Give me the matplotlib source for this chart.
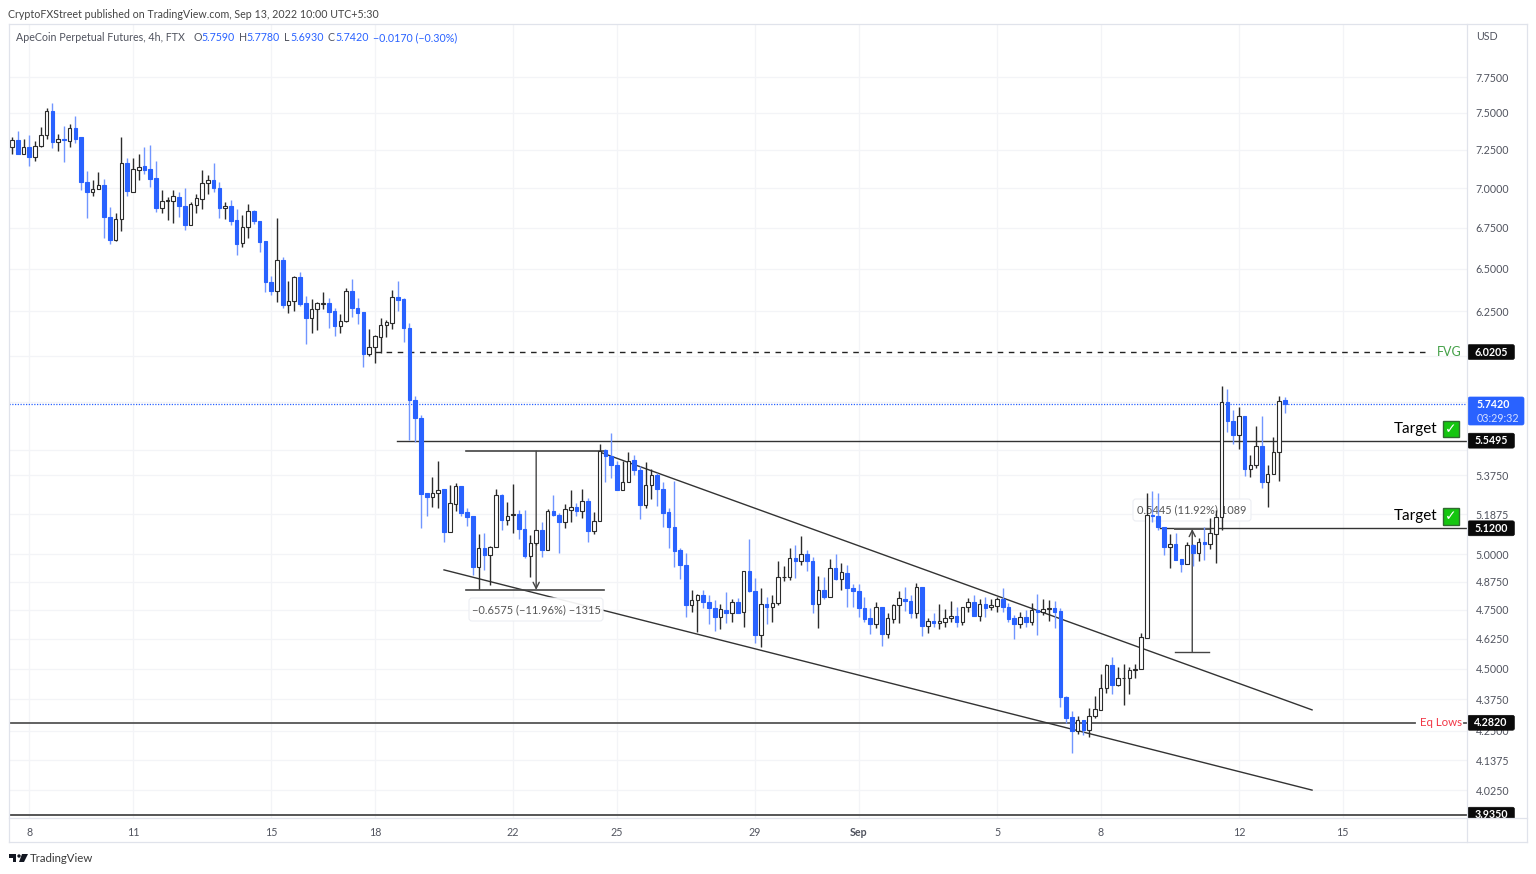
import matplotlib
matplotlib.use("Agg")
import matplotlib.pyplot as plt
from matplotlib.patches import Rectangle, FancyBboxPatch, Polygon
from matplotlib.ticker import NullLocator
from matplotlib.transforms import Affine2D

plt.rcParams['font.family'] = ['Lato', 'DejaVu Sans']

# ---------- data: 4h candles, price in USD ----------
direction_rows = [
    "ududuuudud", "uddduudduu", "duuddduuud", "duuuuddudd", "uudddduduu",
    "dduuudduud", "dduuuuuddd", "ddduuduudd", "duduuduudd", "uududduudu",
    "duuddduudd", "uuddddddu" "u", "dddudududd", "uduuuududd", "udududdddd",
    "uduuuddudu", "duuuduudud", "uudddududu", "udddduduuu", "uduuuuuudd",
    "duddududuu", "udduduuduu", "ud",
]
directions = "".join(direction_rows)

highs = [7.333,7.374,7.326,7.347,7.306,7.401,7.532,7.566,7.354,7.408,
7.422,7.477,7.333,7.108,7.050,7.102,7.056,6.877,6.839,7.333,
7.193,7.193,7.220,7.267,7.280,7.173,6.985,6.940,6.985,6.972,
6.998,6.908,6.960,7.115,7.082,7.160,7.037,6.908,6.921,6.864,
6.826,6.896,6.858,6.789,6.666,6.454,6.808,6.568,6.425,6.454,
6.478,6.337,6.320,6.302,6.360,6.325,6.268,6.233,6.384,6.437,
6.325,6.245,6.148,6.114,6.210,6.199,6.372,6.425,6.325,6.182,
5.781,5.681,5.289,5.367,5.446,5.308,5.328,5.337,5.323,5.216,
5.178,5.093,5.098,5.037,5.308,5.284,5.245,5.333,5.207,5.207,
5.088,5.112,5.150,5.212,5.279,5.193,5.235,5.303,5.240,5.308,
5.264,5.197,5.531,5.506,5.587,5.446,5.446,5.491,5.476,5.421,
5.441,5.406,5.386,5.342,5.216,5.347,5.028,5.005,4.838,4.820,
4.838,4.816,4.794,4.776,4.829,4.798,4.803,4.923,5.070,4.892,
4.847,4.807,4.816,4.968,4.946,5.028,5.042,5.084,5.019,4.987,
4.901,4.896,4.978,5.001,4.959,4.951,4.865,4.865,4.807,4.759,
4.785,4.763,4.737,4.776,4.834,4.851,4.816,4.870,4.851,4.716,
4.737,4.776,4.754,4.790,4.763,4.763,4.803,4.816,4.798,4.807,
4.798,4.807,4.847,4.781,4.728,4.741,4.750,4.781,4.820,4.798,
4.794,4.790,4.759,4.389,4.329,4.310,4.294,4.341,4.389,4.479,
4.520,4.550,4.508,4.520,4.508,4.520,4.651,5.289,5.298,5.289,
5.126,5.093,5.098,4.978,5.056,5.047,5.075,5.126,5.169,5.207,
5.834,5.818,5.707,5.723,5.676,5.476,5.624,5.676,5.426,5.566,
5.781,5.778]

body_tops = [7.313,7.313,7.267,7.267,7.273,7.347,7.511,7.511,7.320,7.320,
7.394,7.394,7.333,7.037,6.992,7.018,7.018,6.814,6.801,7.160,
7.160,7.121,7.134,7.141,7.121,7.063,6.915,6.921,6.947,6.940,
6.883,6.896,6.934,7.031,7.050,7.050,6.998,6.883,6.883,6.795,
6.752,6.852,6.852,6.789,6.666,6.419,6.550,6.550,6.308,6.448,
6.448,6.296,6.262,6.296,6.296,6.296,6.250,6.193,6.366,6.366,
6.268,6.245,6.047,6.108,6.170,6.187,6.331,6.331,6.320,6.153,
5.760,5.665,5.289,5.289,5.303,5.308,5.240,5.323,5.323,5.197,
5.178,5.028,5.028,5.033,5.279,5.279,5.178,5.188,5.188,5.117,
5.051,5.112,5.112,5.202,5.202,5.183,5.212,5.221,5.221,5.250,
5.250,5.154,5.496,5.501,5.471,5.426,5.342,5.446,5.451,5.401,
5.328,5.376,5.376,5.308,5.197,5.126,5.019,4.951,4.794,4.816,
4.816,4.785,4.759,4.754,4.750,4.785,4.785,4.923,4.923,4.834,
4.776,4.776,4.781,4.896,4.896,4.982,4.982,5.001,5.001,4.968,
4.838,4.838,4.937,4.937,4.919,4.914,4.847,4.834,4.759,4.716,
4.763,4.763,4.716,4.772,4.803,4.798,4.790,4.851,4.851,4.703,
4.703,4.703,4.716,4.724,4.724,4.763,4.785,4.785,4.776,4.776,
4.772,4.798,4.798,4.763,4.716,4.720,4.720,4.750,4.750,4.754,
4.759,4.759,4.746,4.385,4.306,4.294,4.294,4.310,4.337,4.422,
4.516,4.516,4.462,4.462,4.496,4.500,4.634,5.183,5.183,5.178,
5.126,5.047,5.047,4.978,5.042,5.042,5.056,5.056,5.098,5.173,
5.749,5.749,5.650,5.676,5.676,5.426,5.521,5.521,5.381,5.491,
5.755,5.759]

body_bottoms = [7.267,7.220,7.220,7.200,7.200,7.273,7.347,7.300,7.300,7.313,
7.306,7.326,7.037,6.972,6.972,6.992,6.814,6.672,6.672,6.801,
6.979,6.972,7.115,7.115,7.056,6.871,6.871,6.915,6.915,6.883,
6.764,6.764,6.890,6.927,7.031,6.998,6.871,6.871,6.789,6.648,
6.654,6.752,6.789,6.660,6.419,6.366,6.366,6.285,6.285,6.308,
6.291,6.210,6.210,6.262,6.291,6.245,6.165,6.165,6.193,6.268,
6.239,6.008,6.008,6.047,6.103,6.170,6.182,6.314,6.153,5.760,
5.665,5.284,5.270,5.270,5.289,5.103,5.103,5.235,5.193,5.173,
4.941,4.941,4.996,4.996,5.033,5.159,5.159,5.183,5.117,4.991,
4.991,5.051,5.019,5.019,5.183,5.150,5.150,5.207,5.202,5.202,
5.107,5.107,5.154,5.471,5.426,5.303,5.303,5.342,5.401,5.231,
5.231,5.328,5.308,5.193,5.126,5.014,4.951,4.772,4.772,4.794,
4.785,4.759,4.720,4.720,4.737,4.737,4.737,4.741,4.834,4.643,
4.643,4.763,4.763,4.781,4.896,4.896,4.968,4.968,4.968,4.776,
4.776,4.807,4.807,4.887,4.887,4.847,4.834,4.759,4.711,4.690,
4.690,4.647,4.647,4.711,4.772,4.790,4.737,4.737,4.681,4.681,
4.694,4.694,4.698,4.716,4.698,4.698,4.763,4.724,4.724,4.759,
4.763,4.767,4.763,4.711,4.690,4.690,4.698,4.698,4.741,4.741,
4.754,4.741,4.385,4.302,4.250,4.250,4.254,4.254,4.310,4.333,
4.422,4.434,4.434,4.462,4.462,4.496,4.500,4.630,5.178,5.126,
5.033,5.033,4.973,4.955,4.955,5.005,5.005,5.047,5.047,5.093,
5.173,5.650,5.577,5.577,5.406,5.406,5.426,5.342,5.342,5.381,
5.491,5.742]

lows = [7.220,7.220,7.220,7.141,7.173,7.267,7.320,7.260,7.240,7.167,
7.267,7.293,6.985,6.808,6.947,6.992,6.684,6.648,6.666,6.727,
6.947,6.972,7.050,7.089,7.005,6.845,6.839,6.795,6.776,6.814,
6.733,6.764,6.839,6.864,6.960,6.972,6.808,6.801,6.764,6.581,
6.630,6.684,6.770,6.599,6.360,6.343,6.302,6.268,6.239,6.250,
6.279,6.064,6.125,6.142,6.262,6.153,6.108,6.125,6.187,6.216,
6.176,5.937,5.997,5.959,6.013,6.103,6.148,6.250,6.075,5.551,
5.541,5.121,5.178,5.221,5.216,5.056,5.103,5.202,5.178,5.131,
4.905,4.842,4.928,4.860,5.033,5.112,5.135,5.098,5.070,4.982,
4.896,5.042,4.987,5.019,5.178,5.005,5.121,5.150,5.178,5.169,
5.056,5.093,5.154,5.342,5.362,5.303,5.303,5.342,5.376,5.164,
5.216,5.260,5.226,5.126,5.028,4.941,4.887,4.720,4.741,4.655,
4.759,4.690,4.660,4.668,4.694,4.698,4.737,4.677,4.829,4.608,
4.591,4.690,4.698,4.772,4.878,4.883,4.892,4.951,4.923,4.737,
4.672,4.798,4.807,4.883,4.838,4.763,4.763,4.720,4.698,4.647,
4.672,4.596,4.630,4.694,4.694,4.746,4.716,4.716,4.638,4.651,
4.677,4.668,4.677,4.698,4.677,4.685,4.741,4.724,4.703,4.720,
4.750,4.741,4.741,4.698,4.625,4.672,4.677,4.685,4.643,4.728,
4.703,4.672,4.345,4.282,4.166,4.238,4.234,4.227,4.302,4.333,
4.401,4.397,4.430,4.353,4.397,4.462,4.500,4.630,5.150,5.112,
4.996,4.937,4.973,4.919,4.955,4.946,4.968,4.973,5.023,4.959,
5.112,5.593,5.531,5.506,5.372,5.367,5.411,5.313,5.221,5.381,
5.347,5.693]

# x axis ticks, as candle index
tick_positions = [3, 21, 45, 63, 87, 105, 129, 147, 171, 189, 213, 231]
tick_labels = ['8', '11', '15', '18', '22', '25', '29', 'Sep', '5', '8', '12', '15']

grid_prices = [7.75, 7.5, 7.25, 7.0, 6.75, 6.5, 6.25, 6.0, 5.75, 5.5, 5.375, 5.1875,
               5.0, 4.875, 4.75, 4.625, 4.5, 4.375, 4.25, 4.1375, 4.025]
hidden_price_labels = [6.0, 5.75, 5.5]

fvg_level = 6.0205
last_price = 5.742
target_upper = 5.5495
target_lower = 5.12
eq_lows = 4.282
bottom_level = 3.935
tag_levels = [6.0205, 5.5495, 5.12, 4.282, 3.935]

upper_channel_x = [102.1, 225.7]
upper_channel_y = [5.491, 4.333]
lower_channel_x = [75.0, 225.7]
lower_channel_y = [4.928, 4.025]
measure1_x = [78.8, 91.0, 102.8]
measure1_y = [5.496, 4.838]
measure2_x = [201.9, 204.9, 207.8]
measure2_y = [5.117, 4.571]

BLUE = '#2962ff'
WICK_BLUE = '#7196ff'
DARK = '#2b2b2b'
TXT = '#50535e'
GRID = '#f3f4f7'
BORDER = '#e0e3eb'
LINE = '#333333'
FS = 7.7

W, H = 1536, 874
fig = plt.figure(figsize=(W / 100, H / 100), dpi=100, facecolor='white')
px = Affine2D().scale(1 / W, -1 / H).translate(0, 1) + fig.transFigure

L, R, T, B = 9, 1467, 24.3, 818.3
ax = fig.add_axes([L / W, 1 - B / H, (R - L) / W, (B - T) / H])
ax.set_facecolor('white')
ax.set_yscale('log')
ax.set_xlim(-0.52, 252.6)
ax.set_ylim(3.922, 8.137)
for s in ax.spines.values():
    s.set_visible(False)

ax.yaxis.tick_right()
ax.set_yticks(grid_prices)
ax.set_yticklabels(['' if p in hidden_price_labels else f'{p:.4f}' for p in grid_prices],
                   fontsize=FS, color=TXT)
ax.yaxis.set_minor_locator(NullLocator())
ax.set_xticks(tick_positions)
ax.set_xticklabels(tick_labels, fontsize=FS, color=TXT)
for lab in ax.get_xticklabels():
    if lab.get_text() == 'Sep':
        lab.set_fontweight('bold')
ax.tick_params(axis='both', length=0)
ax.tick_params(axis='y', pad=6.2)
ax.tick_params(axis='x', pad=6.5)
ax.grid(True, color=GRID, linewidth=0.9, zorder=0)
ax.set_axisbelow(True)

# ---------- candles ----------
for i, d in enumerate(directions):
    up = d == 'u'
    ax.vlines(i, lows[i], highs[i], color=DARK if up else WICK_BLUE, linewidth=1.0, zorder=3)
    ax.bar(i, body_tops[i] - body_bottoms[i], bottom=body_bottoms[i], width=0.62,
           facecolor='white' if up else BLUE, edgecolor=DARK if up else BLUE,
           linewidth=0.8, zorder=4)

# ---------- horizontal levels ----------
ax.plot([63.0, 245.5], [fvg_level] * 2, color='#222222', lw=1.0, dashes=(4, 4), zorder=2.5)
ax.axhline(last_price, color=BLUE, lw=0.9, ls=(0, (1, 1.2)), zorder=2.5)
ax.plot([66.8, 252.6], [target_upper] * 2, color=LINE, lw=1.0, zorder=2.5)
ax.plot([199.3, 252.6], [target_lower] * 2, color=LINE, lw=1.0, zorder=2.5)
ax.plot([-0.52, 243.6], [eq_lows] * 2, color='#555555', lw=1.3, zorder=2.5)
ax.plot([252.0, 252.6], [eq_lows] * 2, color='#555555', lw=1.3, zorder=2.5)
ax.axhline(bottom_level, color='#555555', lw=1.4, zorder=2.5)

# ---------- channel ----------
ax.plot(upper_channel_x, upper_channel_y, color=LINE, lw=1.0, zorder=2.6)
ax.plot(lower_channel_x, lower_channel_y, color=LINE, lw=1.0, zorder=2.6)

# ---------- measure tools ----------
ax.plot([measure1_x[0], measure1_x[2]], [measure1_y[0]] * 2, color='#444444', lw=1.2, zorder=2.7)
ax.plot([measure1_x[0], measure1_x[2]], [measure1_y[1]] * 2, color='#444444', lw=1.2, zorder=2.7)
ax.annotate('', xy=(measure1_x[1], measure1_y[1]), xytext=(measure1_x[1], measure1_y[0]),
            arrowprops=dict(arrowstyle='->', lw=1.0, color='#444444', shrinkA=0, shrinkB=0,
                            mutation_scale=11), zorder=2.7)
ax.plot([measure2_x[0], measure2_x[2]], [measure2_y[0]] * 2, color='#555555', lw=1.4, zorder=2.7)
ax.plot([measure2_x[0], measure2_x[2]], [measure2_y[1]] * 2, color='#444444', lw=1.0, zorder=2.7)
ax.annotate('', xy=(measure2_x[1], measure2_y[0]), xytext=(measure2_x[1], measure2_y[1]),
            arrowprops=dict(arrowstyle='->', lw=1.0, color='#444444', shrinkA=0, shrinkB=0,
                            mutation_scale=11), zorder=2.7)


def label_box(x0, y0, x1, y1, text, z):
    ax.add_patch(FancyBboxPatch((x0 + 3, y0 + 3), x1 - x0 - 6, y1 - y0 - 6,
                                boxstyle='round,pad=3,rounding_size=3', transform=px,
                                fc=(1, 1, 1, 0.92), ec='#eceef3', lw=0.8, zorder=z, clip_on=False))
    ax.text((x0 + x1) / 2, (y0 + y1) / 2, text, transform=px, ha='center', va='center',
            fontsize=FS + 0.2, color='#555555', zorder=z + 0.1, clip_on=False)


label_box(469, 598, 603, 621, '\u22120.6575 (\u221211.96%) \u22121315', 3.5)
label_box(1133, 499, 1251, 521, '0.5445 (11.92%) 1089', 2.8)


# ---------- annotations ----------
def ptext(x, y, s, **kw):
    kw.setdefault('va', 'center')
    kw.setdefault('ha', 'left')
    return fig.text(x / W, 1 - y / H, s, zorder=8, **kw)


ptext(1437, 352, 'FVG', color='#43a047', fontsize=9.0)
ptext(1420, 723, 'Eq Lows', color='#f23645', fontsize=8.3)
ptext(1394, 429, 'Target', color='#000000', fontsize=11.0)
ptext(1394, 516, 'Target', color='#000000', fontsize=11.0)
for yc in (428.5, 516.0):
    fig.add_artist(Rectangle((1442.5, yc - 8), 16, 16.5, transform=px, fc='#14c60f', ec='#2f6b2f',
                             lw=1.0, zorder=8))
    ptext(1450.5, yc + 0.3, '\u2713', color='white', fontsize=10, ha='center', family='DejaVu Sans',
          fontweight='bold')

# price tags
fig.canvas.draw()
for lv in tag_levels:
    yc = H - ax.transData.transform((0, lv))[1]
    ax.add_patch(FancyBboxPatch((1468.5, yc - 6.5), 45, 13, boxstyle='round,pad=1,rounding_size=2',
                                transform=px, fc='#0a0a0a', ec='#0a0a0a', lw=0.4, zorder=9,
                                clip_on=False))
    ax.text(1491, yc, f'{lv:.4f}', transform=px, ha='center', va='center', color='white',
            fontsize=FS, fontweight='bold', zorder=9.1, clip_on=False)
fig.add_artist(FancyBboxPatch((1469, 398), 54, 26, boxstyle='round,pad=1,rounding_size=2',
                              transform=px, fc=BLUE, ec=BLUE, lw=0.5, zorder=7))
ptext(1477, 405, '5.7420', color='white', fontsize=FS, fontweight='bold')
ptext(1477, 418, '03:29:32', color='#d6e0ff', fontsize=FS)

# cover below the price pane, then frame
fig.add_artist(Rectangle((1467.5, 819), 59, 23, transform=px, fc='white', ec='none', zorder=8.5))
for (x0, y0, x1, y1) in [(L, 24, 1527, 24), (L, 24, L, 842), (1527, 24, 1527, 842), (L, 842, 1527, 842),
                         (R, 24, R, 842), (L, 818, 1527, 818)]:
    fig.add_artist(plt.Line2D([x0, x1], [y0, y1], transform=px, color=BORDER, lw=0.9, zorder=9))

# header
ptext(8, 14, 'CryptoFXStreet published on TradingView.com, Sep 13, 2022 10:00 UTC+5:30',
      color='#444444', fontsize=FS)
ptext(16, 37.5, 'ApeCoin Perpetual Futures, 4h, FTX', color=TXT, fontsize=FS)
for xp, s, c in [(193, 'O', TXT), (201, '5.7590', BLUE), (239, 'H', TXT), (246, '5.7780', BLUE),
                 (284, 'L', TXT), (290, '5.6930', BLUE), (328, 'C', TXT), (335, '5.7420', BLUE),
                 (373, '\u22120.0170 (\u22120.30%)', BLUE)]:
    ptext(xp, 37.5, s, color=c, fontsize=FS)
ptext(1476, 37, 'USD', color=TXT, fontsize=FS)

# logo + wordmark
ptext(30, 858.5, 'TradingView', color='#3a3a3a', fontsize=8.2)
for pts in ([(9, 854), (16, 854), (16, 862), (13, 862), (13, 858), (9, 858)],
            [(22, 854), (28, 854), (24, 862), (19, 862)]):
    fig.add_artist(Polygon(pts, closed=True, transform=px, fc='#131722', ec='none', zorder=8))
fig.add_artist(plt.Circle((19, 856), 1.7, transform=px, fc='#131722', ec='none', zorder=8))

fig.savefig('out.png', dpi=100, facecolor='white')
